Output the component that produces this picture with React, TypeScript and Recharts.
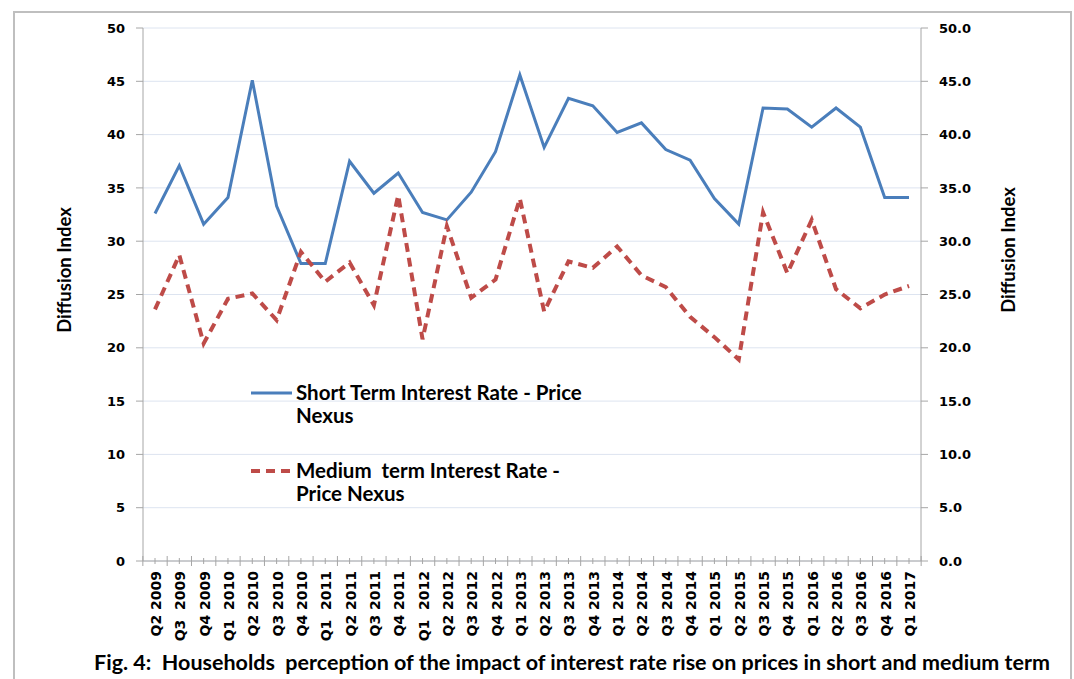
import { LineChart, Line, XAxis, YAxis, CartesianGrid, Legend } from 'recharts';

const quarters = [
  'Q2 2009', 'Q3  2009', 'Q4 2009', 'Q1  2010', 'Q2 2010', 'Q3 2010', 'Q4 2010', 'Q1  2011',
  'Q2 2011', 'Q3 2011', 'Q4 2011', 'Q1  2012', 'Q2 2012', 'Q3 2012', 'Q4 2012', 'Q1 2013',
  'Q2 2013', 'Q3 2013', 'Q4 2013', 'Q1 2014', 'Q2 2014', 'Q3 2014', 'Q4 2014', 'Q1 2015',
  'Q2 2015', 'Q3 2015', 'Q4 2015', 'Q1 2016', 'Q2 2016', 'Q3 2016', 'Q4 2016', 'Q1 2017',
];

const shortTerm = [
  32.6, 37.1, 31.6, 34.1, 45.1, 33.3, 27.9, 27.9,
  37.5, 34.5, 36.4, 32.7, 32.0, 34.6, 38.4, 45.6,
  38.8, 43.4, 42.7, 40.2, 41.1, 38.6, 37.6, 34.0,
  31.6, 42.5, 42.4, 40.7, 42.5, 40.7, 34.1, 34.1,
];

const mediumTerm = [
  23.6, 28.7, 20.4, 24.6, 25.1, 22.6, 29.0, 26.2,
  28.0, 24.0, 34.3, 20.8, 31.4, 24.7, 26.4, 34.0,
  23.4, 28.1, 27.5, 29.5, 26.8, 25.7, 22.9, 21.0,
  18.9, 32.7, 27.0, 32.0, 25.5, 23.7, 25.0, 25.8,
];

const yTicks = [0, 5, 10, 15, 20, 25, 30, 35, 40, 45, 50];

const seriesOrder = ['short', 'medium'];

const data = quarters.map((q, i) => ({ q, short: shortTerm[i], medium: mediumTerm[i] }));

const axisGrey = '#a6a6a6';
const tickFont = { fontFamily: '"DejaVu Sans", Verdana, sans-serif', fontWeight: 700, fontSize: 13, fill: '#000' };
const labelFont = 'Lato, "Open Sans", sans-serif';

const XTick = ({ x, y, payload, index }: any) => {
  const half = 12.15;
  return (
    <g>
      <line x1={x} x2={x} y1={y - 3} y2={y + 3} stroke={axisGrey} />
      <line x1={x - half} x2={x - half} y1={y - 5} y2={y + 5} stroke={axisGrey} />
      {index === quarters.length - 1 && (
        <line x1={x + half} x2={x + half} y1={y - 5} y2={y + 5} stroke={axisGrey} />
      )}
      <text
        transform={`translate(${x + 6},${y + 10}) rotate(-90)`}
        textAnchor="end"
        style={{ whiteSpace: 'pre' }}
        {...tickFont}
        fontSize={14}
      >
        {payload.value}
      </text>
    </g>
  );
};

const LegendBox = ({ payload }: any) => {
  const items = [...(payload || [])].sort(
    (a: any, b: any) => seriesOrder.indexOf(a.dataKey) - seriesOrder.indexOf(b.dataKey)
  );
  return (
    <div style={{ fontFamily: labelFont, fontWeight: 700, fontSize: 20.5, color: '#000', lineHeight: '23px' }}>
      {items.map((p: any, i: number) => (
        <div key={i} style={{ display: 'flex', alignItems: 'flex-start', marginBottom: i === 0 ? 32 : 0 }}>
          <svg width={46} height={23} style={{ flex: 'none' }}>
            <line
              x1={1}
              x2={42}
              y1={12}
              y2={12}
              stroke={p.color}
              strokeWidth={p.dataKey === 'medium' ? 4 : 3}
              strokeDasharray={p.dataKey === 'medium' ? '9 6' : undefined}
            />
          </svg>
          <div style={{ whiteSpace: 'pre-wrap', width: 292 }}>{p.value}</div>
        </div>
      ))}
    </div>
  );
};

export default function App() {
  return (
    <div style={{ position: 'absolute', left: 0, top: 0, width: 1074, height: 679, overflow: 'hidden', background: '#fff' }}>
      <div style={{ position: 'absolute', left: 13, top: 11, width: 1055, height: 720, border: '2px solid #bfbfbf' }} />
      <LineChart width={1074} height={679} data={data} margin={{ top: 28, right: 93, bottom: 38, left: 86 }}>
        <CartesianGrid yAxisId="left" vertical={false} stroke="#dde4f0" />
        <XAxis
          dataKey="q"
          interval={0}
          height={80}
          padding={{ left: 12, right: 12 }}
          tickSize={0}
          tickMargin={0}
          tickLine={false}
          axisLine={{ stroke: axisGrey }}
          tick={<XTick />}
        />
        <YAxis
          yAxisId="left"
          width={57}
          domain={[0, 50]}
          ticks={yTicks}
          interval={0}
          tickSize={7}
          tickMargin={11}
          axisLine={{ stroke: axisGrey }}
          tickLine={{ stroke: axisGrey }}
          tick={tickFont}
        />
        <YAxis
          yAxisId="right"
          orientation="right"
          width={60}
          domain={[0, 50]}
          ticks={yTicks}
          interval={0}
          tickSize={7}
          tickMargin={11}
          axisLine={{ stroke: axisGrey }}
          tickLine={{ stroke: axisGrey }}
          tick={{ ...tickFont, textAnchor: 'start' }}
          tickFormatter={(v: number) => v.toFixed(1)}
        />
        <Legend
          layout="vertical"
          align="center"
          verticalAlign="middle"
          content={<LegendBox />}
          wrapperStyle={{ left: 250, top: 381, width: 360 }}
        />
        <Line
          yAxisId="left"
          type="linear"
          dataKey="short"
          name="Short Term Interest Rate - Price Nexus"
          stroke="#4a7ebb"
          strokeWidth={3}
          dot={false}
          isAnimationActive={false}
        />
        <Line
          yAxisId="right"
          type="linear"
          dataKey="medium"
          name="Medium  term Interest Rate - Price Nexus"
          stroke="#be4b48"
          strokeWidth={4}
          strokeDasharray="9 6"
          dot={false}
          isAnimationActive={false}
        />
      </LineChart>
      <div style={{ position: 'absolute', left: 64, top: 270, transform: 'translate(-50%,-50%) rotate(-90deg)', fontFamily: labelFont, fontWeight: 700, fontSize: 18.5, whiteSpace: 'nowrap' }}>
        Diffusion Index
      </div>
      <div style={{ position: 'absolute', left: 1008, top: 250, transform: 'translate(-50%,-50%) rotate(-90deg)', fontFamily: labelFont, fontWeight: 700, fontSize: 18.5, whiteSpace: 'nowrap' }}>
        Diffusion Index
      </div>
      <div style={{ position: 'absolute', left: 0, width: 1144, top: 649, textAlign: 'center', fontFamily: labelFont, fontWeight: 700, fontSize: 21.5, whiteSpace: 'pre' }}>
        {'Fig. 4:  Households  perception of the impact of interest rate rise on prices in short and medium term'}
      </div>
    </div>
  );
}
